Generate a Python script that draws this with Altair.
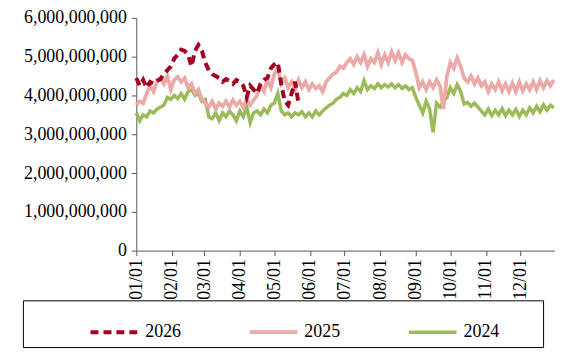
import altair as alt
import pandas as pd

# Values in billions, sampled every 3 days starting Jan 1
step_days = 3
series_order = ["2026", "2025", "2024"]
series_colors = ["#A50021", "#EBA9A7", "#9BBB59"]

v2026 = [4.45, 4.25, 4.40, 4.20, 4.35, 4.30, 4.38, 4.42, 4.55, 4.65,
         4.75, 4.95, 5.05, 5.18, 5.15, 5.05, 4.75, 5.15, 5.30, 5.15,
         4.85, 4.65, 4.55, 4.50, 4.45, 4.35, 4.42, 4.38, 4.30, 4.40,
         4.35, 4.25, 3.95, 4.25, 4.15, 4.05, 4.30, 4.40, 4.45, 4.70,
         4.80, 4.85, 4.30, 3.85, 3.75, 4.05, 4.35, 3.80]

v2025 = [3.75, 3.85, 3.80, 4.05, 4.25, 4.10, 4.35, 4.45, 4.30, 4.50,
         4.15, 4.40, 4.48, 4.35, 4.45, 4.20, 4.30, 4.05, 4.15, 3.90,
         3.80, 3.70, 3.85, 3.65, 3.80, 3.72, 3.85, 3.70, 3.88, 3.75,
         3.85, 3.70, 3.90, 3.75, 3.88, 4.00, 4.25, 4.10, 4.40, 4.20,
         4.55, 4.70, 4.30, 4.45, 4.20, 4.35, 4.15, 4.40, 4.20, 4.35,
         4.15, 4.30, 4.18, 4.25, 4.10, 4.35, 4.45, 4.55, 4.60, 4.75,
         4.70, 4.85, 4.95, 4.80, 5.00, 4.85, 5.05, 4.75, 4.95, 4.85,
         5.10, 4.80, 5.05, 4.85, 5.12, 4.90, 5.10, 4.85, 5.05, 4.95,
         4.90, 4.60, 4.20, 4.35, 4.15, 4.35, 4.20, 4.40, 4.25, 3.65,
         4.50, 4.85, 4.70, 4.97, 4.75, 4.45, 4.35, 4.50, 4.30, 4.45,
         4.25, 4.35, 4.10, 4.30, 4.15, 4.35, 4.12, 4.30, 4.10, 4.32,
         4.10, 4.35, 4.12, 4.30, 4.15, 4.35, 4.15, 4.38, 4.20, 4.38,
         4.25, 4.40]

v2024 = [3.55, 3.35, 3.50, 3.45, 3.60, 3.55, 3.65, 3.70, 3.75, 3.95,
         3.90, 4.00, 3.92, 4.05, 3.90, 4.10, 4.15, 4.00, 4.05, 3.85,
         3.90, 3.45, 3.40, 3.55, 3.35, 3.55, 3.45, 3.60, 3.50, 3.35,
         3.60, 3.45, 3.70, 3.30, 3.55, 3.60, 3.50, 3.65, 3.55, 3.75,
         3.80, 4.05, 3.60, 3.50, 3.55, 3.45, 3.55, 3.50, 3.58, 3.45,
         3.55, 3.45, 3.60, 3.50, 3.60, 3.68, 3.75, 3.80, 3.90, 3.95,
         4.05, 4.00, 4.15, 4.05, 4.20, 4.10, 4.38, 4.15, 4.25, 4.18,
         4.30, 4.20, 4.28, 4.22, 4.30, 4.20, 4.28, 4.18, 4.25, 4.15,
         4.20, 3.95, 3.75, 3.55, 3.85, 3.65, 3.05, 3.80, 3.70, 3.85,
         3.95, 4.20, 4.05, 4.28, 4.10, 3.78, 3.82, 3.72, 3.80, 3.70,
         3.60, 3.50, 3.65, 3.48, 3.62, 3.50, 3.66, 3.48, 3.62, 3.50,
         3.64, 3.46, 3.62, 3.50, 3.68, 3.55, 3.72, 3.58, 3.76, 3.62,
         3.75, 3.68]

y_ticks = [0, 1e9, 2e9, 3e9, 4e9, 5e9, 6e9]
months = list(range(1, 13))

start = pd.Timestamp("2025-01-01")
rows = []
for name, vals in (("2024", v2024), ("2025", v2025), ("2026", v2026)):
    for i, v in enumerate(vals):
        rows.append({"date": (start + pd.Timedelta(days=i * step_days)).strftime("%Y-%m-%dT00:00:00"),
                     "value": v * 1e9, "series": name})
df = pd.DataFrame(rows)

FONT = "Liberation Serif"

legend = alt.Legend(
    title="\u00a0", titleOrient="right", titlePadding=38, titleFontSize=1,
    orient="none", legendX=-114, legendY=284,
    direction="horizontal", columns=3,
    symbolType="stroke", symbolSize=2304, symbolOffset=60,
    labelFont=FONT, labelFontSize=18, labelColor="black", labelOffset=5,
    strokeColor="black", padding=6, columnPadding=7,
)

chart = alt.Chart(df).mark_line().encode(
    x=alt.X("date:T",
            scale=alt.Scale(domain=[alt.DateTime(year=2025, month=1, date=1),
                                    alt.DateTime(year=2025, month=12, date=31)]),
            axis=alt.Axis(title=None, format="%m/%d", labelAngle=270,
                          values=[alt.DateTime(year=2025, month=m, date=1) for m in months],
                          labelFont=FONT, labelFontSize=18, labelColor="black",
                          labelAlign="right", labelBaseline="middle",
                          tickSize=5, labelPadding=3, grid=False,
                          domainColor="#595959", tickColor="#595959")),
    y=alt.Y("value:Q",
            scale=alt.Scale(domain=[0, 6e9]),
            axis=alt.Axis(title=None, values=y_ticks, format=",.0f",
                          labelFont=FONT, labelFontSize=18, labelColor="black",
                          tickSize=5, labelPadding=5, grid=False,
                          domainColor="#595959", tickColor="#595959")),
    color=alt.Color("series:N", scale=alt.Scale(domain=series_order, range=series_colors),
                    legend=legend),
    strokeDash=alt.StrokeDash("series:N",
                              scale=alt.Scale(domain=series_order, range=[[8, 5], [1, 0], [1, 0]]),
                              legend=legend),
    strokeWidth=alt.StrokeWidth("series:N",
                                scale=alt.Scale(domain=series_order, range=[4, 3.5, 5]),
                                legend=legend),
).properties(
    width=421, height=234,
    autosize=alt.AutoSizeParams(type="none"),
    padding={"left": 129, "top": 9, "right": 0, "bottom": 99},
).configure_view(stroke=None)

chart.save("out.html", embed_options={"renderer": "svg", "actions": False})
